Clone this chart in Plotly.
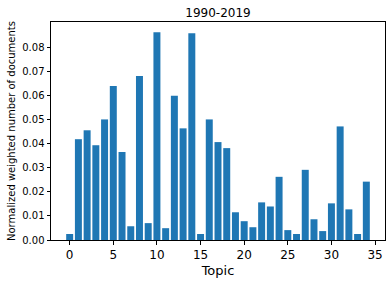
import plotly.graph_objects as go

topics = list(range(35))
values = [0.0025, 0.0418, 0.0455, 0.0393, 0.0500, 0.0639, 0.0365, 0.0057, 0.0680, 0.0070,
          0.0861, 0.0049, 0.0598, 0.0463, 0.0857, 0.0025, 0.0500, 0.0406, 0.0381, 0.0115,
          0.0078, 0.0053, 0.0156, 0.0139, 0.0262, 0.0041, 0.0025, 0.0291, 0.0086, 0.0037,
          0.0152, 0.0471, 0.0127, 0.0025, 0.0242]
x_ticks = [0, 5, 10, 15, 20, 25, 30, 35]
y_ticks = [0.00, 0.01, 0.02, 0.03, 0.04, 0.05, 0.06, 0.07, 0.08]

fig = go.Figure(go.Bar(x=topics, y=values, marker_color="#1f77b4", marker_line_width=0, width=0.8))

font = "DejaVu Sans"
fig.update_layout(
    width=392, height=284,
    margin=dict(l=51, r=7, t=22, b=44, autoexpand=False),
    paper_bgcolor="white", plot_bgcolor="white",
    showlegend=False,
    font=dict(family=font, color="#262626", size=11),
    title=dict(text="1990-2019", x=(51 + 385) / 2 / 392, xanchor="center", y=1 - 13 / 284, yanchor="middle",
               font=dict(size=12, family=font, color="black")),
)
fig.update_xaxes(
    range=[-2.14, 36.14], tickvals=x_ticks, ticktext=[str(t) for t in x_ticks],
    showline=True, linecolor="black", linewidth=1, mirror=True, automargin=False,
    ticks="outside", ticklen=3.5, tickcolor="black", showgrid=False, zeroline=False,
    title=dict(text="Topic", font=dict(size=13, family=font, color="black"), standoff=4),
    tickfont=dict(size=12, color="black"),
)
fig.update_yaxes(
    range=[0, 0.0904], tickvals=y_ticks, ticktext=[f"{t:.2f}" for t in y_ticks],
    showline=True, linecolor="black", linewidth=1, mirror=True, automargin=False,
    ticks="outside", ticklen=3.5, tickcolor="black", showgrid=False, zeroline=False,
    title=dict(text="Normalized weighted number of documents", font=dict(size=10, family=font, color="black"), standoff=4),
    tickfont=dict(size=10, color="black"),
)

fig.write_html(
    "out.html",
    config={"displayModeBar": False},
    post_script="document.body.style.margin='0';document.body.style.padding='0';document.body.style.overflow='hidden';",
)
